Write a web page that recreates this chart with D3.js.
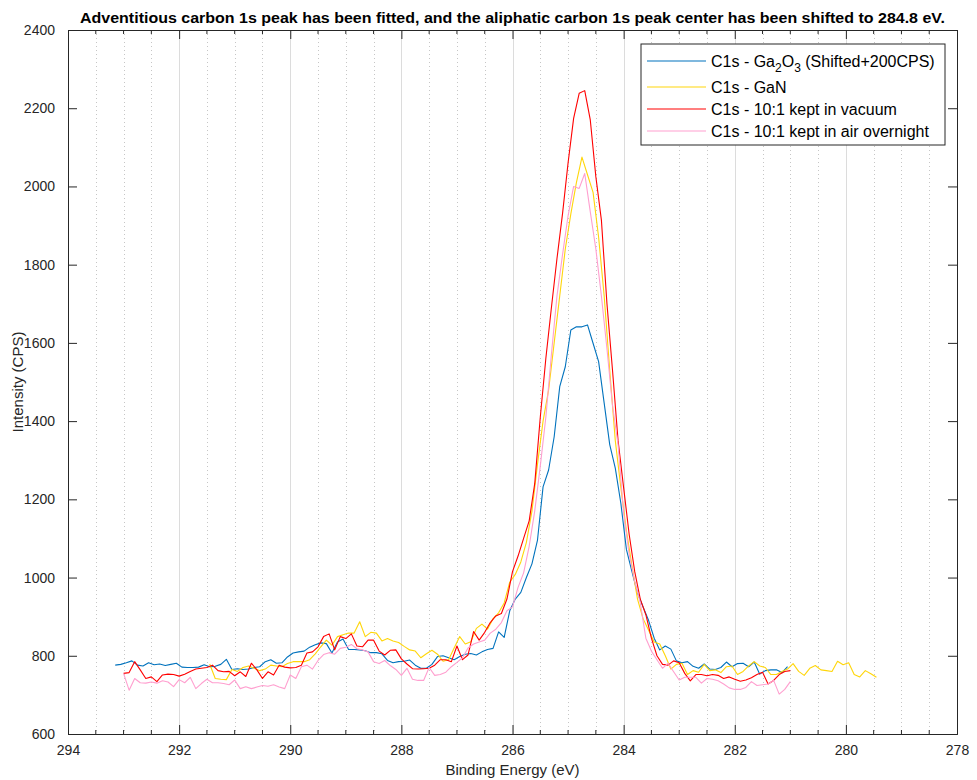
<!DOCTYPE html>
<html>
<head>
<meta charset="utf-8">
<script src="https://cdn.jsdelivr.net/npm/d3@7"></script>
<style>
  body { margin: 0; background: #fff; }
  svg { display: block; font-family: Arial, "Liberation Sans", sans-serif; }
</style>
</head>
<body>
<div id="chart"></div>
<script>
// C1s spectra, 0.1 eV steps (binding energy decreasing)
const step = 0.1;

const ga2o3Start = 293.15;
const ga2o3Values = [
  776, 778, 782, 787, 776, 774, 782, 777, 779, 775, 778, 781, 771, 770, 770, 771,
  777, 772, 773, 778, 791, 765, 767, 765, 766, 770, 772, 785, 790, 781, 782, 797,
  807, 810, 812, 822, 828, 833, 831, 807, 835, 843, 816, 816, 815, 813, 808, 808,
  805, 788, 782, 785, 786, 789, 776, 768, 768, 778, 798, 800, 795, 790, 798, 804,
  806, 802, 810, 816, 819, 861, 847, 915, 945, 962, 1000, 1035, 1096, 1232, 1275, 1360,
  1488, 1539, 1633, 1641, 1641, 1646, 1599, 1552, 1446, 1340, 1280, 1190, 1072, 1015, 960, 925,
  890, 845, 815, 825, 817, 787, 782, 785, 773, 768, 779, 766, 765, 770, 784, 772,
  780, 781, 772, 784, 753, 762, 764, 764, 757, 772
];

const ganStart = 291.45;
const ganValues = [
  779, 742, 740, 739, 765, 760, 770, 774, 768, 762, 766, 776, 774, 772, 780, 785,
  785, 785, 790, 805, 823, 840, 827, 849, 854, 858, 858, 887, 849, 860, 858, 838,
  844, 838, 834, 824, 815, 812, 795, 805, 814, 804, 786, 790, 820, 849, 830, 836,
  870, 881, 868, 895, 910, 935, 988, 1008, 1040, 1090, 1170, 1290, 1400, 1480, 1600, 1720,
  1840, 1930, 2010, 2075, 2030, 1985, 1870, 1720, 1530, 1350, 1230, 1120, 1030, 945, 895, 865,
  835, 830, 800, 766, 778, 781, 752, 762, 758, 778, 762, 764, 757, 772, 774, 752,
  760, 774, 785, 774, 770, 752, 752, 760, 766, 780, 760, 750, 768, 775, 764, 762,
  760, 786, 777, 782, 752, 746, 762, 754, 745
];

const vacuumStart = 293.0;
const vacuumValues = [
  755, 757, 785, 764, 742, 746, 734, 751, 753, 752, 748, 753, 760, 766, 768, 770,
  776, 762, 759, 760, 749, 759, 747, 781, 764, 742, 759, 751, 776, 771, 769, 770,
  776, 807, 810, 823, 849, 856, 815, 849, 844, 856, 825, 823, 840, 840, 812, 802,
  814, 815, 792, 779, 767, 766, 767, 768, 776, 790, 790, 785, 825, 790, 802, 862,
  840, 860, 885, 902, 908, 945, 1015, 1055, 1100, 1145, 1240, 1410, 1560, 1690, 1815, 1930,
  2060, 2174, 2238, 2245, 2170, 2025, 1914, 1700, 1530, 1350, 1230, 1110, 1015, 945, 905, 845,
  800, 778, 776, 787, 782, 755, 736, 752, 752, 749, 752, 750, 742, 746, 740, 735,
  738, 744, 752, 758, 728, 737, 752, 760, 762
];

const airStart = 293.0;
const airValues = [
  755, 712, 742, 731, 730, 733, 730, 736, 733, 721, 739, 731, 745, 716, 729, 740,
  731, 731, 729, 726, 738, 716, 721, 716, 720, 724, 722, 726, 720, 716, 751, 742,
  772, 776, 766, 788, 803, 808, 804, 819, 822, 829, 818, 815, 810, 785, 780, 788,
  775, 765, 750, 768, 740, 737, 737, 770, 750, 752, 758, 772, 783, 795, 820, 830,
  835, 840, 858, 868, 885, 915, 925, 975, 1012, 1080, 1170, 1285, 1410, 1570, 1720, 1825,
  1925, 2000, 1995, 2033, 1935, 1840, 1720, 1585, 1440, 1340, 1165, 1060, 990, 935, 845, 812,
  790, 768, 781, 759, 738, 745, 745, 745, 730, 742, 740, 736, 728, 718, 714, 714,
  719, 734, 724, 726, 728, 737, 702, 714, 734
];

const seriesNames = [
  "C1s - Ga2O3 (Shifted+200CPS)",
  "C1s - GaN",
  "C1s - 10:1 kept in vacuum",
  "C1s - 10:1 kept in air overnight"
];
const seriesColors = ["#0072BD", "#FFD60A", "#FF0000", "#FF9FCF"];

const xTicks = [294, 292, 290, 288, 286, 284, 282, 280, 278];
const yTicks = [600, 800, 1000, 1200, 1400, 1600, 1800, 2000, 2200, 2400];

const titleText = "Adventitious carbon 1s peak has been fitted, and the aliphatic carbon 1s peak center has been shifted to 284.8 eV.";

function toPoints(start, values) {
  return values.map((v, i) => ({ e: +(start - i * step).toFixed(2), v: v }));
}

const series = [
  toPoints(ga2o3Start, ga2o3Values),
  toPoints(ganStart, ganValues),
  toPoints(vacuumStart, vacuumValues),
  toPoints(airStart, airValues)
];

const W = 977, H = 780;
const margin = { top: 30, right: 20, bottom: 46, left: 68 };
const innerW = W - margin.left - margin.right;
const innerH = H - margin.top - margin.bottom;

const svg = d3.select("#chart").append("svg")
  .attr("width", W).attr("height", H);

const g = svg.append("g").attr("transform", `translate(${margin.left},${margin.top})`);

const x = d3.scaleLinear().domain([294, 278]).range([0, innerW]);
const y = d3.scaleLinear().domain([600, 2400]).range([innerH, 0]);

// minor grid (dotted, every 0.5 eV)
const minor = d3.range(293.5, 278, -0.5).filter(d => Math.abs(d % 2) > 0.01);
g.append("g").selectAll("line").data(minor).enter().append("line")
  .attr("x1", d => Math.round(x(d)) + 0.5).attr("x2", d => Math.round(x(d)) + 0.5)
  .attr("y1", 0).attr("y2", innerH)
  .attr("stroke", "#c6c6c6").attr("stroke-dasharray", "1,3");

// major grid
g.append("g").selectAll("line").data(xTicks.slice(1, -1)).enter().append("line")
  .attr("x1", d => Math.round(x(d)) + 0.5).attr("x2", d => Math.round(x(d)) + 0.5)
  .attr("y1", 0).attr("y2", innerH)
  .attr("stroke", "#dcdcdc");

// lines
const line = d3.line().x(d => x(d.e)).y(d => y(d.v));
series.forEach((s, i) => {
  g.append("path").datum(s)
    .attr("fill", "none")
    .attr("stroke", seriesColors[i])
    .attr("stroke-width", 1.1)
    .attr("stroke-linejoin", "round")
    .attr("d", line);
});

// axes (ticks pointing inward, box around)
const axisColor = "#262626";
const tickLen = 9;

const xAxis = g.append("g").attr("transform", `translate(0,${innerH})`)
  .call(d3.axisBottom(x).tickValues(xTicks).tickSize(-tickLen).tickPadding(tickLen + 2).tickFormat(d3.format("d")));
const xTop = g.append("g")
  .call(d3.axisTop(x).tickValues(xTicks).tickSize(-tickLen).tickFormat(""));
const yAxis = g.append("g")
  .call(d3.axisLeft(y).tickValues(yTicks).tickSize(-tickLen).tickPadding(tickLen + 4).tickFormat(d3.format("d")));
const yRight = g.append("g").attr("transform", `translate(${innerW},0)`)
  .call(d3.axisRight(y).tickValues(yTicks).tickSize(-tickLen).tickFormat(""));

[xAxis, xTop, yAxis, yRight].forEach(a => {
  a.select(".domain").attr("stroke", axisColor);
  a.selectAll(".tick line").attr("stroke", axisColor);
  a.selectAll(".tick text").attr("fill", axisColor).style("font-size", "14px");
});

// minor ticks on bottom and top
[[innerH, -4], [0, 4]].forEach(([yy, len]) => {
  g.append("g").selectAll("line").data(minor).enter().append("line")
    .attr("x1", d => x(d)).attr("x2", d => x(d))
    .attr("y1", yy).attr("y2", yy + len)
    .attr("stroke", axisColor);
});

// axis labels
svg.append("text")
  .attr("x", margin.left + innerW / 2).attr("y", H - 5)
  .attr("text-anchor", "middle").attr("fill", axisColor)
  .style("font-size", "15px")
  .text("Binding Energy (eV)");

svg.append("text")
  .attr("transform", `translate(23,${margin.top + innerH / 2}) rotate(-90)`)
  .attr("text-anchor", "middle").attr("fill", axisColor)
  .style("font-size", "15px")
  .text("Intensity (CPS)");

// title
svg.append("text")
  .attr("x", margin.left + innerW / 2).attr("y", 23)
  .attr("text-anchor", "middle").attr("fill", "#000")
  .attr("textLength", 865).attr("lengthAdjust", "spacingAndGlyphs")
  .style("font-size", "14.5px").style("font-weight", "bold")
  .text(titleText);

// legend
const legend = svg.append("g").attr("transform", "translate(641,44)");
legend.append("rect")
  .attr("width", 304).attr("height", 101)
  .attr("fill", "#fff").attr("stroke", axisColor);

const rowY = [17, 43, 65, 87];
seriesNames.forEach((name, i) => {
  legend.append("line")
    .attr("x1", 6).attr("x2", 65)
    .attr("y1", rowY[i]).attr("y2", rowY[i])
    .attr("stroke", seriesColors[i]).attr("stroke-width", 1.1);
  const t = legend.append("text")
    .attr("x", 70).attr("y", rowY[i] + 5.5)
    .attr("fill", "#000").style("font-size", "16px");
  if (i === 0) {
    t.append("tspan").text("C1s - Ga");
    t.append("tspan").attr("dy", 5).style("font-size", "12px").text("2");
    t.append("tspan").attr("dy", -5).text("O");
    t.append("tspan").attr("dy", 5).style("font-size", "12px").text("3");
    t.append("tspan").attr("dy", -5).text(" (Shifted+200CPS)");
  } else {
    t.text(name);
  }
});
</script>
</body>
</html>
